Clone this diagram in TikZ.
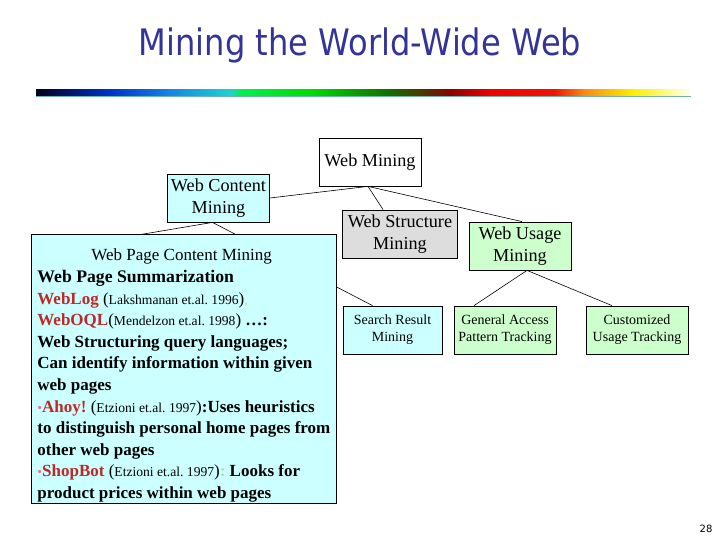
\documentclass[tikz,border=0pt]{standalone}
\usepackage{fontspec}
\setmainfont{Liberation Serif}
\newfontfamily\titlefont[FakeStretch=0.88]{DejaVu Sans}
\newfontfamily\numfont{DejaVu Sans}
\definecolor{titleblue}{RGB}{51,51,153}
\definecolor{cyanfill}{RGB}{204,255,255}
\definecolor{greenfill}{RGB}{204,255,204}
\definecolor{grayfill}{RGB}{221,221,221}
\definecolor{namered}{RGB}{190,40,40}
\definecolor{dotpink}{RGB}{225,120,140}
\definecolor{commayellow}{RGB}{230,200,110}
\definecolor{colongreen}{RGB}{170,225,170}
\definecolor{barteal}{RGB}{110,180,170}
\definecolor{rb0}{RGB}{0,0,30}
\definecolor{rb1}{RGB}{0,50,200}
\definecolor{rb2}{RGB}{20,130,230}
\definecolor{rb3}{RGB}{30,210,210}
\definecolor{rb4}{RGB}{0,240,80}
\definecolor{rb5}{RGB}{0,220,0}
\definecolor{rb6}{RGB}{20,110,0}
\definecolor{rb7}{RGB}{80,50,0}
\definecolor{rb8}{RGB}{140,0,0}
\definecolor{rb9}{RGB}{240,0,0}
\definecolor{rb10}{RGB}{240,20,0}
\definecolor{rb11}{RGB}{250,140,20}
\definecolor{rb12}{RGB}{255,240,0}
\definecolor{rb13}{RGB}{255,255,235}
\newcommand{\cit}[1]{{\mdseries\fontsize{13.6}{21.5}\selectfont #1}}
\newcommand{\nm}[1]{{\color{namered}#1}}
\newcommand{\pl}[1]{{\mdseries #1}}
\frenchspacing
\tikzset{
    box/.style={draw, line width=0.8pt, align=center, inner sep=2pt,
      minimum width=102pt, minimum height=48pt,
      font=\fontsize{18.2}{22}\selectfont},
    smallbox/.style={box, font=\fontsize{14}{17}\selectfont},
    link/.style={line width=0.6pt},
    infobox/.style={draw, line width=0.8pt, fill=cyanfill, align=left,
      inner xsep=0pt, inner ysep=0pt, minimum width=305pt,
      text height=264pt, text depth=5pt,
      font=\bfseries\fontsize{17}{21.6}\selectfont}
}
\begin{document}
\begin{tikzpicture}[x=1pt,y=-1pt]
    \useasboundingbox (0,0) rectangle (720,540);
    \node[text=titleblue, font=\titlefont\fontsize{36.5}{40}\selectfont] (title) at (360,45) {Mining the World-Wide Web};
    \foreach \xa/\xb/\ca/\cb in {%
        36/110/rb0/rb1, 110/168/rb1/rb2, 168/231/rb2/rb3, 231/240/rb3/rb4,
        240/311/rb4/rb5, 311/388/rb5/rb6, 388/424/rb6/rb7, 424/450/rb7/rb8,
        450/491/rb8/rb9, 491/554/rb9/rb10, 554/585/rb10/rb11,
        585/634/rb11/rb12, 634/690/rb12/rb13} {
      \fill[left color=\ca, right color=\cb] (\xa,90) rectangle (\xb,95.5);
    }
    \draw[barteal, line width=0.8pt] (36,96) -- (691,96);

    \node[box, fill=white] (wm) at (370,162) {Web Mining};
    \node[box, fill=cyanfill] (wcm) at (218.5,198) {Web Content\\Mining};
    \node[box, fill=grayfill, minimum width=115pt] (wsm) at (400,234) {Web Structure\\Mining};
    \node[box, fill=greenfill] (wum) at (520,246) {Web Usage\\Mining};
    \node[smallbox, fill=cyanfill, minimum width=99pt] (srm) at (392.5,330) {Search Result\\Mining};
    \node[smallbox, fill=greenfill] (gapt) at (505,330) {General Access\\Pattern Tracking};
    \node[smallbox, fill=greenfill] (cut) at (637,330) {Customized\\Usage Tracking};
    \coordinate (hidden) at (120,238);

    \draw[link] ([xshift=-2pt]wm.south) -- (wcm.east);
    \draw[link] ([xshift=-2pt]wm.south) -- ([xshift=-17pt]wsm.north);
    \draw[link] ([xshift=-2pt]wm.south) -- ([xshift=2pt]wum.north);
    \draw[link] ([xshift=-6pt]wcm.south) -- (hidden);
    \draw[link] ([xshift=-6pt]wcm.south) -- ([xshift=-20pt]srm.north);
    \draw[link] ([xshift=7pt]wum.south) -- ([xshift=-31pt]gapt.north);
    \draw[link] ([xshift=7pt]wum.south) -- ([xshift=-25pt]cut.north);

    \node[infobox, anchor=north west] (pcm) at (31,234) {%
      \hspace*{54pt}\pl{Web Page Content Mining}\\
      {\fontsize{17.7}{21.6}\selectfont Web Page Summarization}\\
      \nm{WebLog} \pl{(}\cit{Lakshmanan et.al. 1996}\pl{)}{\color{commayellow}\cit{,}}\\
      \nm{WebOQL}\pl{(}\cit{Mendelzon et.al. 1998}\pl{)} \ldots:\\
      Web Structuring query languages;\\
      Can identify information within given\\
      web pages\\
      {\color{dotpink}\cit{\textbullet}}\nm{Ahoy!} \pl{(}\cit{Etzioni et.al. 1997}\pl{)}:Uses heuristics\\
      to distinguish personal home pages from\\
      other web pages\\
      {\color{dotpink}\cit{\textbullet}}\nm{ShopBot} \pl{(}\cit{Etzioni et.al. 1997}\pl{)}{\color{colongreen}:} Looks for\\
      product prices within web pages};

    \node[font=\numfont\fontsize{10}{12}\selectfont] (pagenum) at (706,529) {28};
\end{tikzpicture}
\end{document}
